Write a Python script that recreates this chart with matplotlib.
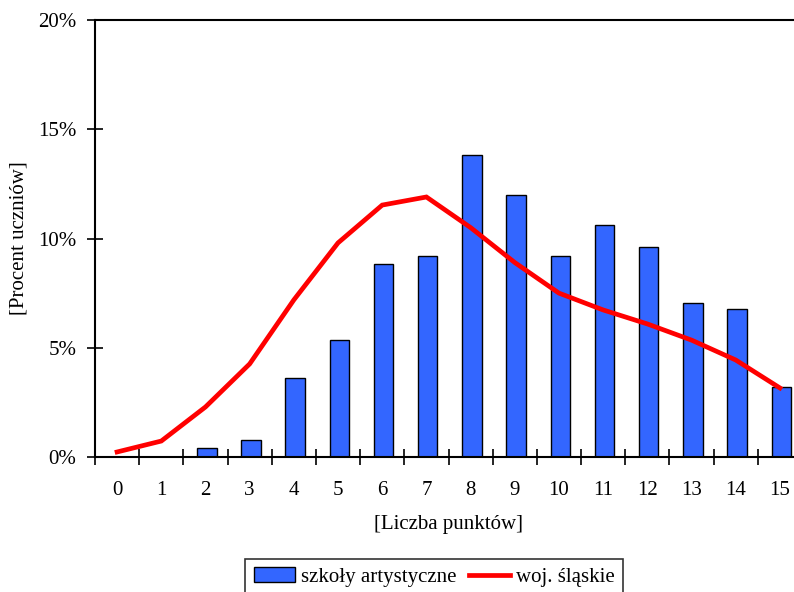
import matplotlib
matplotlib.use("Agg")
import matplotlib.pyplot as plt
import numpy as np
from matplotlib.ticker import FixedLocator, PercentFormatter

plt.rcParams['font.family'] = ['Liberation Serif', 'DejaVu Serif']

points = list(range(16))
tick_labels = [str(p) for p in points]
szkoly_artystyczne = [0.0, 0.0, 0.4, 0.78, 3.6, 5.35, 8.83, 9.2, 13.8, 12.0, 9.2, 10.6, 9.6, 7.05, 6.77, 3.2]
woj_slaskie = [0.23, 0.73, 2.29, 4.26, 7.19, 9.8, 11.53, 11.9, 10.5, 8.9, 7.5, 6.73, 6.09, 5.35, 4.44, 3.16]

W, H = 794, 592
fig = plt.figure(figsize=(W / 100, H / 100), dpi=100)
left, right, top, bottom = 95, 802, 20, 457
ax = fig.add_axes([left / W, 1 - bottom / H, (right - left) / W, (bottom - top) / H])

x = np.arange(len(points))
bars = ax.bar(x + 0.03, szkoly_artystyczne, width=0.44, color='#3366FF', edgecolor='black',
              linewidth=1.0, label='szkoły artystyczne', zorder=2)
line, = ax.plot(x, woj_slaskie, color='#FF0000', linewidth=3.4, label='woj. śląskie', zorder=3,
                solid_joinstyle='miter')

FS = 15
ax.set_xlim(-0.5, 15.5)
ax.set_ylim(0, 20)
ax.set_xticks(x)
ax.set_xticklabels(tick_labels)
ax.xaxis.set_minor_locator(FixedLocator(np.arange(-0.5, 16, 1)))
ax.tick_params(axis='x', which='major', length=0, pad=17, labelsize=FS)
ax.tick_params(axis='x', which='minor', direction='inout', length=11, width=1.2)
ax.set_yticks([0, 5, 10, 15, 20])
ax.yaxis.set_major_formatter(PercentFormatter(decimals=0))
ax.tick_params(axis='y', direction='inout', length=11, width=1.2, labelsize=FS, pad=8)

for s in ['left', 'bottom', 'top']:
    ax.spines[s].set_linewidth(1.5)
ax.spines['right'].set_visible(False)

ax.set_xlabel('[Liczba punktów]', fontsize=FS, labelpad=11)
ax.set_ylabel('[Procent uczniów]', fontsize=FS, labelpad=7)

leg = fig.legend([bars, line], ['szkoły artystyczne', 'woj. śląskie'], loc='upper center',
                 bbox_to_anchor=(434 / W, 1 - 559 / H),
                 ncol=2, fontsize=FS, frameon=True, fancybox=False, edgecolor='black',
                 borderpad=0.4, handlelength=2.0, handletextpad=0.25, columnspacing=0.6,
                 borderaxespad=0)
leg.get_frame().set_linewidth(1.2)

fig.savefig('out.png', dpi=100)
